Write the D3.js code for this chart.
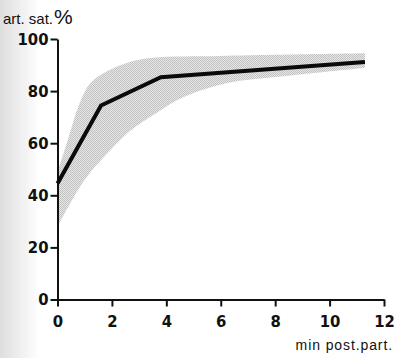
<!DOCTYPE html>
<html>
<head>
<meta charset="utf-8">
<script src="https://cdn.jsdelivr.net/npm/d3@7"></script>
<style>
  body { margin: 0; background: #fff; }
  svg { display: block; }
</style>
</head>
<body>
<div id="chart"></div>
<script>
// mean curve
const minutes = [0, 1.6, 3.8, 11.3];
const satMean = [44.5, 74.5, 85.3, 91.2];

// range band (upper / lower)
const bandUpperX = [0, 0.4, 0.8, 1.2, 1.8, 2.6, 3.5, 6, 11.3];
const bandUpperY = [49, 62, 75, 83, 87.5, 91, 92.8, 93.5, 94.5];
const bandLowerX = [0, 1, 2, 2.7, 3.7, 4.6, 6.2, 8.3, 11.3];
const bandLowerY = [28, 46, 58, 65, 72, 77.5, 83, 85.7, 89];

const xTicks = [0, 2, 4, 6, 8, 10, 12];
const yTicks = [0, 20, 40, 60, 80, 100];

const width = 400, height = 358;

const svg = d3.select("#chart").append("svg")
    .attr("width", width)
    .attr("height", height);

const defs = svg.append("defs");

// scanned page shading on the left edge
const grad = defs.append("linearGradient")
    .attr("id", "pageShade")
    .attr("x1", 0).attr("x2", 1).attr("y1", 0).attr("y2", 0);
grad.append("stop").attr("offset", 0).attr("stop-color", "#dedede");
grad.append("stop").attr("offset", 1).attr("stop-color", "#ffffff");
svg.append("rect")
    .attr("width", 40).attr("height", height)
    .attr("fill", "url(#pageShade)");

// stipple pattern for the band
const pat = defs.append("pattern")
    .attr("id", "stipple")
    .attr("width", 2).attr("height", 2)
    .attr("patternUnits", "userSpaceOnUse");
pat.append("rect").attr("width", 2).attr("height", 2).attr("fill", "#e6e6e6");
pat.append("rect").attr("width", 1).attr("height", 1).attr("fill", "#c2c2c2");
pat.append("rect").attr("x", 1).attr("y", 1).attr("width", 1).attr("height", 1).attr("fill", "#c2c2c2");

const x = d3.scaleLinear().domain([0, 12]).range([57.5, 384]);
const y = d3.scaleLinear().domain([0, 100]).range([299.5, 39]);

// band: upper edge left->right, lower edge right->left
const upper = bandUpperX.map((v, i) => [v, bandUpperY[i]]);
const lower = bandLowerX.map((v, i) => [v, bandLowerY[i]]).reverse();
const edge = d3.line().x(d => x(d[0])).y(d => y(d[1])).curve(d3.curveCatmullRom.alpha(0.5));

svg.append("path")
    .attr("d", edge(upper) + "L" + edge(lower).slice(1) + "Z")
    .attr("fill", "url(#stipple)")
    .attr("stroke", "none");

// axes
const tickFont = "'Liberation Sans Narrow', 'DejaVu Sans Condensed', sans-serif";

const yAxis = svg.append("g")
    .attr("transform", `translate(${x(0)},0)`)
    .call(d3.axisLeft(y).tickValues(yTicks).tickSize(7).tickSizeOuter(0).tickPadding(2));

const xAxis = svg.append("g")
    .attr("transform", `translate(0,${y(0)})`)
    .call(d3.axisBottom(x).tickValues(xTicks).tickSize(7).tickSizeOuter(0).tickPadding(9));

[yAxis, xAxis].forEach(g => {
    g.select(".domain").attr("stroke", "#111").attr("stroke-width", 2);
    g.selectAll(".tick line").attr("stroke", "#111").attr("stroke-width", 2);
    g.selectAll(".tick text")
        .attr("fill", "#111")
        .style("font-family", tickFont)
        .style("font-weight", "bold")
        .style("font-size", "16.5px");
});

// mean line
svg.append("path")
    .datum(minutes.map((m, i) => [m, satMean[i]]))
    .attr("d", d3.line().x(d => x(d[0])).y(d => y(d[1])))
    .attr("fill", "none")
    .attr("stroke", "#0a0a0a")
    .attr("stroke-width", 4)
    .attr("stroke-linejoin", "miter");

// titles
const yTitle = svg.append("text")
    .attr("x", 3)
    .attr("y", 24)
    .attr("fill", "#111")
    .style("font-family", "'Liberation Sans', Arial, sans-serif");
yTitle.append("tspan").style("font-size", "15px").text("art. sat.");
yTitle.append("tspan").style("font-size", "21px").attr("dx", 1).text("%");

svg.append("text")
    .attr("x", 393)
    .attr("y", 350)
    .attr("text-anchor", "end")
    .attr("fill", "#111")
    .style("font-family", "'Liberation Sans', Arial, sans-serif")
    .style("font-size", "14px")
    .style("letter-spacing", "0.9px")
    .text("min post.part.");
</script>
</body>
</html>
